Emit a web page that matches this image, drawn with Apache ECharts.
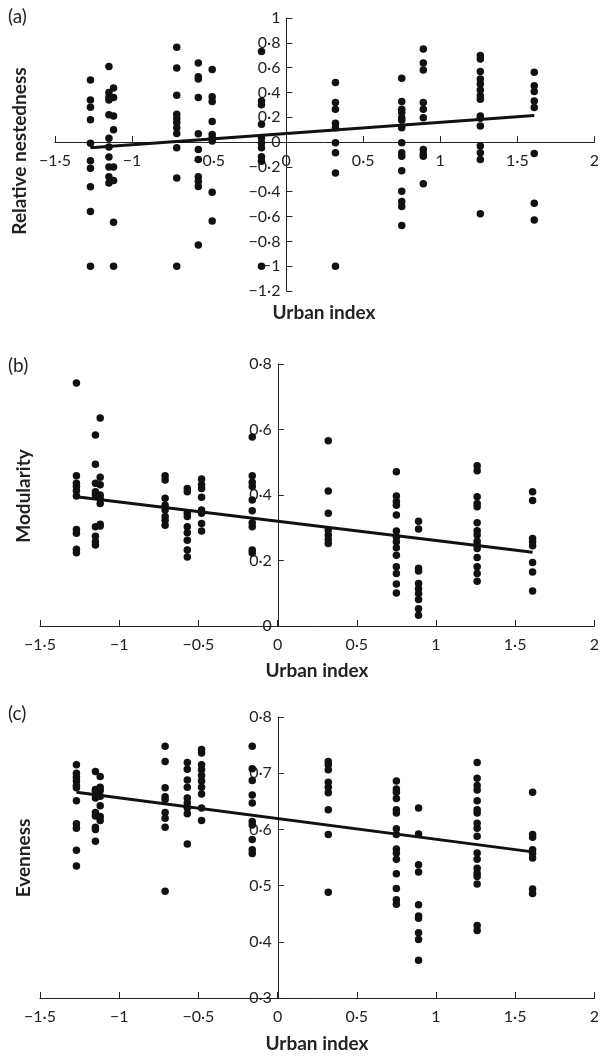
<!DOCTYPE html>
<html>
<head>
<meta charset="utf-8">
<script src="https://cdn.jsdelivr.net/npm/echarts@6/dist/echarts.min.js"></script>
<style>html,body{margin:0;padding:0;background:#fff;}#c{width:602px;height:1056px;}</style>
</head>
<body>
<div id="c"></div>
<script>
// Urban index of each site
const siteX = [-1.27, -1.15, -1.12, -0.71, -0.57, -0.48, -0.16, 0.32, 0.75, 0.89, 1.26, 1.61];
const xTicks = [-1.5, -1, -0.5, 0, 0.5, 1, 1.5, 2];

// (a) Relative nestedness per site
const nestedness = [
  [0.50, 0.34, 0.28, 0.18, -0.01, -0.15, -0.21, -0.36, -0.56, -1.0],
  [0.61, 0.40, 0.36, 0.34, 0.22, 0.03, -0.04, -0.12, -0.20, -0.28, -0.33],
  [0.435, 0.36, 0.21, 0.10, -0.20, -0.31, -0.646, -1.0],
  [0.765, 0.597, 0.378, 0.224, 0.19, 0.157, 0.116, 0.07, -0.046, -0.289, -1.0],
  [0.638, 0.527, 0.508, 0.36, 0.068, -0.059, -0.14, -0.28, -0.316, -0.357, -0.83],
  [0.584, 0.365, 0.327, 0.165, 0.062, 0.035, 0.008, -0.405, -0.635],
  [0.73, 0.332, 0.30, 0.143, 0.035, -0.005, -0.046, -0.119, -0.154, -1.0],
  [0.48, 0.319, 0.265, 0.151, 0.116, -0.005, -0.086, -0.249, -1.0],
  [0.514, 0.327, 0.265, 0.238, 0.197, 0.176, 0.116, -0.005, -0.086, -0.114, -0.23, -0.397, -0.478, -0.519, -0.673],
  [0.751, 0.638, 0.581, 0.319, 0.265, 0.197, -0.059, -0.095, -0.114, -0.335],
  [0.697, 0.67, 0.568, 0.508, 0.468, 0.419, 0.373, 0.346, 0.211, 0.192, 0.13, -0.032, -0.086, -0.14, -0.578],
  [0.562, 0.454, 0.408, 0.332, 0.278, -0.092, -0.492, -0.627]
];
// (b) Modularity per site
const modularity = [
  [0.742, 0.459, 0.436, 0.426, 0.413, 0.397, 0.295, 0.283, 0.234, 0.224],
  [0.583, 0.494, 0.436, 0.41, 0.40, 0.303, 0.274, 0.257, 0.247],
  [0.635, 0.454, 0.431, 0.40, 0.39, 0.374, 0.311, 0.305],
  [0.459, 0.446, 0.39, 0.369, 0.354, 0.334, 0.323, 0.308],
  [0.42, 0.41, 0.344, 0.334, 0.303, 0.285, 0.262, 0.232, 0.211],
  [0.449, 0.431, 0.42, 0.393, 0.354, 0.344, 0.313, 0.29],
  [0.577, 0.459, 0.439, 0.426, 0.385, 0.352, 0.315, 0.303, 0.232, 0.223],
  [0.566, 0.412, 0.344, 0.293, 0.278, 0.264, 0.252],
  [0.471, 0.397, 0.38, 0.369, 0.339, 0.29, 0.272, 0.257, 0.239, 0.216, 0.181, 0.16, 0.128, 0.101],
  [0.32, 0.296, 0.176, 0.168, 0.13, 0.114, 0.099, 0.081, 0.053, 0.033],
  [0.489, 0.474, 0.395, 0.374, 0.364, 0.315, 0.291, 0.278, 0.259, 0.247, 0.237, 0.209, 0.181, 0.16, 0.137],
  [0.41, 0.383, 0.267, 0.257, 0.245, 0.194, 0.165, 0.107]
];
// (c) Evenness per site
const evenness = [
  [0.715, 0.70, 0.693, 0.686, 0.678, 0.674, 0.651, 0.61, 0.602, 0.563, 0.535],
  [0.703, 0.671, 0.668, 0.662, 0.656, 0.63, 0.624, 0.604, 0.60, 0.579],
  [0.694, 0.675, 0.669, 0.659, 0.642, 0.623, 0.616],
  [0.748, 0.721, 0.674, 0.658, 0.653, 0.63, 0.62, 0.604, 0.49],
  [0.719, 0.707, 0.688, 0.675, 0.656, 0.647, 0.638, 0.628, 0.574],
  [0.742, 0.736, 0.715, 0.706, 0.696, 0.686, 0.675, 0.663, 0.638, 0.616],
  [0.748, 0.708, 0.687, 0.661, 0.647, 0.614, 0.608, 0.582, 0.564, 0.557],
  [0.721, 0.715, 0.706, 0.684, 0.675, 0.665, 0.635, 0.591, 0.488],
  [0.686, 0.672, 0.666, 0.655, 0.635, 0.629, 0.601, 0.591, 0.565, 0.558, 0.547, 0.521, 0.495, 0.475, 0.467],
  [0.638, 0.592, 0.537, 0.524, 0.466, 0.446, 0.442, 0.416, 0.404, 0.367],
  [0.719, 0.691, 0.678, 0.67, 0.651, 0.635, 0.629, 0.611, 0.602, 0.588, 0.558, 0.547, 0.531, 0.522, 0.516, 0.503, 0.429, 0.42],
  [0.666, 0.591, 0.586, 0.564, 0.557, 0.549, 0.494, 0.486]
];
// Fitted regression lines (endpoints)
const fitNested = [[-1.27, -0.046], [1.61, 0.215]];
const fitModularity = [[-1.27, 0.395], [1.61, 0.225]];
const fitEvenness = [[-1.27, 0.666], [1.61, 0.56]];

const panelLabels = ['(a)', '(b)', '(c)'];
const yNames = ['Relative nestedness', 'Modularity', 'Evenness'];
const xName = 'Urban index';

function toPoints(groups) {
  const pts = [];
  groups.forEach((vals, i) => vals.forEach(v => pts.push([siteX[i], v])));
  return pts;
}
function fmt(v) {
  const r = Math.round(v * 100) / 100;
  return String(r).replace('.', '\u00b7').replace('-', '\u2212');
}

const FONT = 'Lato';
const TXT = '#222';
const W = 602, H = 1056;
const X_MIN = -1.5, X_MAX = 2;

const grids = [
  { left: 55, right: 7, top: 18, bottom: 765 },
  { left: 40, right: 7, top: 364, bottom: 430 },
  { left: 40, right: 7, top: 717, bottom: 58 }
];
const yRanges = [
  { min: -1.2, max: 1, interval: 0.2 },
  { min: 0, max: 0.8, interval: 0.2 },
  { min: 0.3, max: 0.8, interval: 0.1 }
];

// place axes where the other axis is zero (or at its minimum if zero is out of range)
function yAxisOffset(i) {
  const g = grids[i];
  const w = W - g.left - g.right;
  return -((0 - X_MIN) / (X_MAX - X_MIN)) * w;
}
function xAxisOffset(i) {
  const g = grids[i], r = yRanges[i];
  const h = H - g.top - g.bottom;
  const z = Math.max(0, r.min);
  const frac = (z - r.min) / (r.max - r.min);
  return -frac * h;
}

const xAxes = grids.map((g, i) => ({
  type: 'value', gridIndex: i, min: X_MIN, max: X_MAX, interval: 0.5, position: 'bottom',
  offset: xAxisOffset(i),
  axisLine: { onZero: false, lineStyle: { color: TXT, width: 1 } },
  axisTick: { inside: true, length: 6, lineStyle: { color: TXT } },
  splitLine: { show: false },
  axisLabel: { formatter: fmt, color: TXT, fontSize: 16, fontFamily: FONT, margin: 11 }
}));
const yAxes = grids.map((g, i) => ({
  type: 'value', gridIndex: i, min: yRanges[i].min, max: yRanges[i].max, interval: yRanges[i].interval,
  position: 'left', offset: yAxisOffset(i),
  axisLine: { show: true, onZero: false, lineStyle: { color: TXT, width: 1 } },
  axisTick: { show: true, inside: true, length: 6, lineStyle: { color: TXT } },
  splitLine: { show: false },
  axisLabel: { formatter: fmt, color: TXT, fontSize: 16, fontFamily: FONT, margin: 6 }
}));

const scatterData = [toPoints(nestedness), toPoints(modularity), toPoints(evenness)];
const fits = [fitNested, fitModularity, fitEvenness];
const series = [];
for (let i = 0; i < 3; i++) {
  series.push({
    type: 'scatter', xAxisIndex: i, yAxisIndex: i, data: scatterData[i],
    symbol: 'circle', symbolSize: 7.5, itemStyle: { color: '#111', opacity: 1 }, z: 3
  });
  series.push({
    type: 'line', xAxisIndex: i, yAxisIndex: i, data: fits[i], symbol: 'none',
    lineStyle: { color: '#111', width: 3 }, z: 4, silent: true
  });
}

const yNamePos = [[20, 151], [24, 496], [24, 858]];
const xNamePos = [[324, 313], [317, 671], [317, 1044]];
const labelPos = [[8, 17], [8, 366], [8, 714]];
const graphic = [];
for (let i = 0; i < 3; i++) {
  graphic.push({ type: 'text', left: labelPos[i][0], top: labelPos[i][1] - 10,
    style: { text: panelLabels[i], fill: TXT, font: '19px ' + FONT } });
  graphic.push({ type: 'text', x: xNamePos[i][0], y: xNamePos[i][1],
    style: { text: xName, fill: TXT, font: 'bold 19px ' + FONT, align: 'center', verticalAlign: 'middle' } });
  graphic.push({ type: 'text', x: yNamePos[i][0], y: yNamePos[i][1], rotation: Math.PI / 2,
    style: { text: yNames[i], fill: TXT, font: 'bold 19px ' + FONT, align: 'center', verticalAlign: 'middle' } });
}

const chart = echarts.init(document.getElementById('c'), null, { renderer: 'canvas' });
chart.setOption({
  backgroundColor: '#fff',
  animation: false,
  grid: grids,
  xAxis: xAxes,
  yAxis: yAxes,
  series: series,
  graphic: graphic
});
</script>
</body>
</html>
